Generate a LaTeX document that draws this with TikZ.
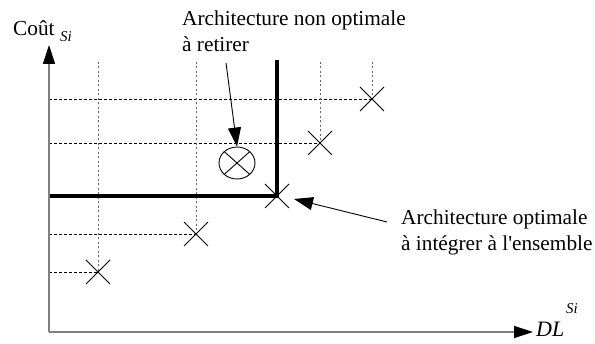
\documentclass[tikz,border=0pt]{standalone}
\usepackage{fontspec}
\setmainfont{Liberation Serif}
\usetikzlibrary{arrows.meta,shapes.geometric}
\begin{document}
\begin{tikzpicture}[x=1pt,y=-1pt,
  axis/.style={draw=black!50,line width=1.3pt,-{Triangle[length=19pt,width=12pt,color=black]}},
  hdash/.style={draw=black,line width=0.9pt,dash pattern=on 3pt off 2pt},
  vdot/.style={draw=black!60,line width=0.9pt,dash pattern=on 2pt off 2.5pt},
  front/.style={draw=black,line width=4pt},
  xmark/.style={draw=black,line width=0.9pt},
  ptr/.style={draw=black,line width=0.9pt,-{Triangle[length=19pt,width=13pt]}},
  lbl/.style={font=\fontsize{21.3}{25.5}\selectfont,inner sep=0pt},
  small/.style={font=\fontsize{15}{15}\selectfont\itshape,inner sep=0pt}
]
\useasboundingbox (0,0) rectangle (595,344);
% origin and axis ends
\coordinate (O) at (49,332);
\coordinate (Ytop) at (49,45);
\coordinate (Xend) at (533,332);
% points
\coordinate (p1) at (98,272);
\coordinate (p2) at (196,234);
\coordinate (p3) at (277,196);
\coordinate (p4) at (320,143);
\coordinate (p5) at (372,99);
\coordinate (frontTop) at (277,60);
\coordinate (frontLeft) at (49,196);
% guide lines
\draw[hdash] (49,272) -- (p1);
\draw[hdash] (49,234) -- (p2);
\draw[hdash] (49,143) -- (p4);
\draw[hdash] (49,99) -- (p5);
\draw[vdot] (98,62) -- (p1);
\draw[vdot] (196,62) -- (p2);
\draw[vdot] (320,62) -- (p4);
\draw[vdot] (372,62) -- (p5);
% front
\draw[front] (frontLeft) -- (p3) -- (frontTop);
% axes
\draw[axis] (O) -- (Ytop);
\draw[axis] (O) -- (Xend);
% crosses
\foreach \p in {p1,p2,p3,p4,p5}{
  \draw[xmark] ([shift={(-12,-12)}]\p) -- ([shift={(12,12)}]\p);
  \draw[xmark] ([shift={(-12,12)}]\p) -- ([shift={(12,-12)}]\p);
}
% removed architecture
\node[ellipse,draw,line width=0.9pt,minimum width=36pt,minimum height=32pt,inner sep=0pt] (rm) at (237,163) {};
\draw[xmark] (rm.north west) -- (rm.south east);
\draw[xmark] (rm.south west) -- (rm.north east);
% labels
\node[lbl,anchor=base west] (cout) at (13,36) {Coût};
\node[small,anchor=base west] (coutsub) at (60,42) {Si};
\node[lbl,anchor=base west,font=\fontsize{22}{25}\selectfont\itshape] (dl) at (536,337) {DL};
\node[small,anchor=base west] (dlsup) at (566,314) {Si};
\node[lbl,anchor=base west] (lab1) at (182,26) {\begin{tabular}[t]{@{}l@{}}Architecture non optimale\\à retirer\end{tabular}};
\node[lbl,anchor=base west] (lab2) at (401,225) {\begin{tabular}[t]{@{}l@{}}Architecture optimale\\à intégrer à l\textquotesingle ensemble\end{tabular}};
\coordinate (t1) at (226,63);
\coordinate (t2) at (387,222);
\coordinate (h2) at (294,199);
\draw[ptr] (t1) -- (rm.north);
\draw[ptr] (t2) -- (h2);
\end{tikzpicture}
\end{document}
